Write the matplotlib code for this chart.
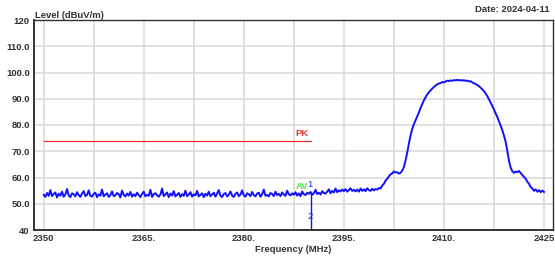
import numpy as np
import matplotlib
matplotlib.use('Agg')
import matplotlib.pyplot as plt
from matplotlib.ticker import FixedLocator

plt.rcParams['font.family'] = ['Liberation Sans', 'DejaVu Sans']

# sweep settings of the receiver trace
sweep_start = 2350.0
sweep_step = 0.25

# measured level (dBuV/m), one value per sweep step, 2350 .. 2425 MHz
levels = [
    53.4, 52.6, 54.1, 53.0, 55.2, 52.9, 53.7, 54.3, 52.4, 53.8,
    53.1, 54.6, 52.7, 53.5, 55.6, 53.2, 52.5, 54.0, 53.6, 52.8,
    54.4, 53.3, 52.6, 53.9, 54.8, 52.9, 53.4, 55.1, 53.0, 52.7,
    53.8, 54.2, 52.5, 53.6, 53.1, 55.4, 52.8, 53.5, 54.0, 52.6,
    53.3, 54.7, 52.9, 53.2, 54.1, 53.7, 52.4, 55.0, 53.4, 52.8,
    53.9, 53.1, 54.5, 52.7, 53.6, 52.9, 54.2, 53.3, 52.5, 53.8,
    54.6, 52.8, 53.4, 53.0, 55.3, 52.6, 53.7, 54.0, 53.2, 52.7,
    53.5, 55.8, 52.9, 53.6, 54.3, 52.5, 53.9, 53.1, 54.8, 52.8,
    53.4, 54.1, 52.6, 53.7, 53.0, 55.0, 52.9, 53.5, 54.4, 52.7,
    53.6, 53.2, 54.9, 52.8, 53.4, 54.0, 52.5, 53.8, 53.1, 54.6,
    52.9, 53.5, 54.2, 52.7, 53.9, 55.2, 53.0, 52.6, 53.7, 54.1,
    52.8, 53.4, 54.7, 53.1, 52.6, 53.8, 54.3, 52.9, 53.5, 55.1,
    53.2, 52.7, 54.0, 53.6, 52.9, 54.5, 53.3, 52.8, 53.9, 54.2,
    52.7, 53.6, 55.4, 53.0, 53.4, 52.8, 54.1, 53.7, 52.9, 54.6,
    53.3, 53.8, 52.9, 54.3, 53.5, 53.0, 55.0, 53.6, 53.2, 54.0,
    53.4, 54.4, 53.1, 53.9, 52.9, 54.7, 53.6, 53.3, 54.2, 53.8,
    54.5, 53.4, 54.0, 55.3, 53.7, 54.2, 53.5, 54.8, 54.1, 53.9,
    54.6, 55.5, 54.0, 54.9, 54.3, 55.8, 54.4, 55.1, 54.7, 55.4,
    54.8, 55.6, 54.6, 55.2, 55.9, 54.9, 55.3, 54.7, 55.4, 54.6,
    55.8, 54.9, 55.5, 54.8, 55.9, 55.2, 54.9, 55.7, 55.1, 55.6,
    55.4, 56.0, 55.8, 56.9, 57.6, 58.8, 59.5, 60.4, 61.2, 61.6,
    62.3, 61.9, 62.0, 61.5, 61.8, 62.6, 64.0, 66.5, 69.5, 73.0,
    76.0, 78.5, 80.3, 81.8, 83.2, 84.8, 86.5, 88.0, 89.4, 90.6,
    91.6, 92.5, 93.2, 93.9, 94.5, 95.0, 95.5, 95.8, 96.0, 96.4,
    96.2, 96.6, 96.9, 96.7, 97.0, 96.8, 97.1, 97.0, 97.2, 97.0,
    97.1, 96.9, 97.1, 96.8, 96.9, 96.6, 96.7, 96.2, 95.9, 95.6,
    95.2, 94.8, 94.2, 93.6, 92.9, 92.0, 91.0, 89.8, 88.5, 87.2,
    85.9, 84.5, 83.0, 81.4, 79.8, 78.0, 76.0, 73.6, 70.2, 66.4,
    63.8, 62.4, 61.8, 62.3, 62.0, 62.5, 61.7, 61.0, 60.2, 59.6,
    58.4, 57.6, 56.4, 55.8, 54.9, 55.5, 54.6, 55.2, 54.4, 55.0,
    54.5,
]

# limit line (PK) and marker
pk_freq = [2350, 2390]
pk_level = [74, 74]
marker_freq = 2390
marker_level = 54.5

x_ticks = [2350, 2365, 2380, 2395, 2410, 2425]
x_labels = ['2350', '2365.', '2380.', '2395.', '2410.', '2425']
x_grid = [2357.5, 2372.5, 2387.5, 2402.5, 2417.5]
y_ticks = [40, 50, 60, 70, 80, 90, 100, 110, 120]
y_labels = ['40', '50.0', '60.0', '70.0', '80.0', '90.0', '100.0', '110.0', '120']

freqs = sweep_start + sweep_step * np.arange(len(levels))

fig = plt.figure(figsize=(5.55, 2.6), dpi=100)
ax = fig.add_axes([34 / 555, 1 - 230 / 260, 519 / 555, 210 / 260])

ax.set_xlim(2348.55, 2426.35)
ax.set_ylim(40, 120)

ax.xaxis.set_major_locator(FixedLocator(x_ticks))
ax.xaxis.set_minor_locator(FixedLocator(x_grid))
ax.set_xticklabels(x_labels)
ax.set_yticks(y_ticks)
ax.set_yticklabels(y_labels)
ax.tick_params(which='both', length=0, labelsize=6.8, colors='#333333', pad=3)
for lab in ax.get_xticklabels() + ax.get_yticklabels():
    lab.set_fontweight('bold')

ax.grid(True, which='both', color='#dcdcdc', linewidth=1.2)
ax.set_axisbelow(True)
for s in ax.spines.values():
    s.set_color('#333333')
    s.set_linewidth(1.0)
ax.spines['left'].set_linewidth(1.4)
ax.spines['bottom'].set_linewidth(1.4)

ax.plot(pk_freq, pk_level, color='#f03030', linewidth=0.9)
ax.plot(freqs, levels, color='#1010ff', linewidth=1.4)
ax.vlines(marker_freq, 40, marker_level, color='#1010ff', linewidth=1.0)

ax.text(2387.8, 76.6, 'PK', color='#f03838', fontsize=6.8, fontweight='bold', va='center')
ax.text(2387.8, 56.5, 'AV', color='#50e050', fontsize=6.8, fontweight='bold', va='center')
ax.text(2389.5, 57.4, '1', color='#2020ff', fontsize=6.8, va='center')
ax.text(2390.0, 45.2, '2', color='#2020ff', fontsize=6.8, va='center', ha='center')

fig.text(35 / 555, 1 - 15 / 260, 'Level (dBuV/m)', fontsize=6.8, fontweight='bold',
         color='#333333', va='center')
fig.text(550 / 555, 1 - 9 / 260, 'Date: 2024-04-11', fontsize=6.8, fontweight='bold',
         color='#333333', va='center', ha='right')
ax.set_xlabel('Frequency (MHz)', fontsize=6.8, fontweight='bold', color='#333333', labelpad=1)

fig.savefig('out.png', dpi=100)
